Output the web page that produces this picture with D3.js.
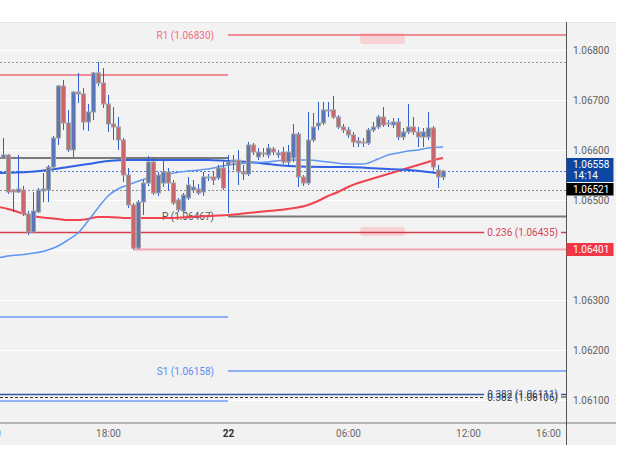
<!DOCTYPE html>
<html><head><meta charset="utf-8">
<script src="https://cdn.jsdelivr.net/npm/d3@7"></script>
<style>
html,body{margin:0;padding:0;background:#fff;}
svg{display:block;font-family:Roboto,"Noto Sans",sans-serif;}
</style></head><body>
<svg id="chart" width="625" height="474"></svg>
<script>
// ---------- DATA ----------
const candleStart = "21 12:45"; // 15-minute candles
const opens = [1.06584,1.06590,1.06520,1.06516,1.06520,1.06472,1.06436,1.06476,1.06518,1.06520,
1.06566,1.06624,1.06728,1.06654,1.06600,1.06716,1.06712,1.06656,1.06676,1.06754,
1.06734,1.06692,1.06652,1.06646,1.06620,1.06550,1.06490,1.06404,1.06496,1.06534,
1.06576,1.06514,1.06534,1.06556,1.06534,1.06500,1.06478,1.06504,1.06520,1.06522,
1.06516,1.06544,1.06546,1.06544,1.06564,1.06570,1.06576,1.06580,1.06556,1.06552,
1.06610,1.06586,1.06592,1.06590,1.06602,1.06590,1.06596,1.06576,1.06584,1.06632,
1.06546,1.06534,1.06620,1.06648,1.06654,1.06678,1.06680,1.06666,1.06646,1.06640,
1.06630,1.06618,1.06614,1.06614,1.06640,1.06646,1.06666,1.06652,1.06650,1.06656,
1.06626,1.06636,1.06646,1.06636,1.06626,1.06626,1.06644,1.06560,1.06546];
const highs = [1.06624,1.06592,1.06522,1.06590,1.06528,1.06478,1.06516,1.06524,1.06554,1.06570,
1.06628,1.06730,1.06740,1.06680,1.06718,1.06754,1.06724,1.06692,1.06756,1.06776,
1.06764,1.06710,1.06686,1.06666,1.06624,1.06564,1.06494,1.06500,1.06540,1.06588,
1.06586,1.06556,1.06580,1.06564,1.06540,1.06504,1.06514,1.06546,1.06540,1.06532,
1.06556,1.06552,1.06556,1.06570,1.06576,1.06590,1.06590,1.06600,1.06570,1.06616,
1.06614,1.06604,1.06604,1.06612,1.06606,1.06600,1.06606,1.06610,1.06652,1.06636,
1.06550,1.06676,1.06674,1.06696,1.06696,1.06696,1.06708,1.06670,1.06652,1.06646,
1.06636,1.06626,1.06624,1.06644,1.06656,1.06670,1.06686,1.06660,1.06664,1.06664,
1.06644,1.06692,1.06666,1.06646,1.06644,1.06676,1.06648,1.06570,1.06560];
const lows = [1.06582,1.06512,1.06476,1.06514,1.06468,1.06430,1.06434,1.06474,1.06496,1.06496,
1.06564,1.06610,1.06640,1.06596,1.06586,1.06694,1.06640,1.06638,1.06660,1.06728,
1.06684,1.06636,1.06620,1.06600,1.06536,1.06484,1.06401,1.06402,1.06470,1.06528,
1.06510,1.06508,1.06526,1.06520,1.06490,1.06476,1.06474,1.06500,1.06514,1.06510,
1.06508,1.06538,1.06530,1.06540,1.06520,1.06474,1.06560,1.06530,1.06540,1.06548,
1.06590,1.06580,1.06586,1.06584,1.06590,1.06584,1.06572,1.06570,1.06576,1.06526,
1.06528,1.06530,1.06616,1.06640,1.06650,1.06666,1.06662,1.06642,1.06634,1.06624,
1.06606,1.06606,1.06606,1.06610,1.06636,1.06642,1.06646,1.06646,1.06644,1.06620,
1.06620,1.06632,1.06630,1.06606,1.06606,1.06620,1.06560,1.06524,1.06540];
const closes = [1.06590,1.06516,1.06516,1.06522,1.06472,1.06436,1.06478,1.06520,1.06522,1.06566,
1.06624,1.06728,1.06654,1.06600,1.06716,1.06712,1.06656,1.06676,1.06754,1.06734,
1.06692,1.06652,1.06646,1.06620,1.06550,1.06490,1.06404,1.06496,1.06534,1.06576,
1.06514,1.06550,1.06556,1.06534,1.06494,1.06480,1.06510,1.06530,1.06526,1.06514,
1.06546,1.06546,1.06540,1.06564,1.06524,1.06576,1.06580,1.06556,1.06552,1.06610,
1.06596,1.06596,1.06594,1.06604,1.06596,1.06594,1.06576,1.06596,1.06632,1.06546,
1.06534,1.06620,1.06646,1.06654,1.06680,1.06680,1.06666,1.06646,1.06640,1.06630,
1.06616,1.06614,1.06616,1.06640,1.06646,1.06666,1.06650,1.06654,1.06656,1.06626,
1.06636,1.06646,1.06636,1.06626,1.06636,1.06644,1.06566,1.06546,1.06558];

const fastMATimes = ["21 12:30","21 13:00","21 14:00","21 15:00","21 15:30","21 16:00","21 16:30","21 17:00","21 17:30","21 18:00","21 18:30","21 19:00","21 20:00","21 21:00","21 22:00","21 23:00","22 00:00","22 01:00","22 02:00","22 03:00","22 04:00","22 05:00","22 06:00","22 06:45","22 07:30","22 08:00","22 08:30","22 09:00","22 09:30","22 10:00","22 10:45"];
const fastMAValues = [1.06384,1.06388,1.06392,1.06400,1.06408,1.06420,1.06434,1.06458,1.06484,1.06508,1.06522,1.06530,1.06544,1.06552,1.06558,1.06562,1.06570,1.06574,1.06576,1.06580,1.06580,1.06576,1.06572,1.06572,1.06582,1.06590,1.06594,1.06598,1.06600,1.06604,1.06606];
const slowMATimes = ["21 12:30","21 14:00","21 15:00","21 16:00","21 17:00","21 18:00","21 19:00","21 20:00","21 22:00","21 23:00","22 00:00","22 01:00","22 02:00","22 03:00","22 05:00","22 06:00","22 07:00","22 08:00","22 09:00","22 10:00","22 10:45"];
const slowMAValues = [1.06554,1.06556,1.06560,1.06566,1.06572,1.06578,1.06580,1.06580,1.06580,1.06580,1.06578,1.06576,1.06572,1.06568,1.06566,1.06566,1.06564,1.06562,1.06560,1.06556,1.06552];
const redMATimes = ["21 12:30","21 13:00","21 13:30","21 14:00","21 14:30","21 15:00","21 15:30","21 16:00","21 16:30","21 17:00","21 17:30","21 18:00","21 19:00","21 20:00","21 21:00","21 22:00","21 23:00","22 00:00","22 01:00","22 02:00","22 03:00","22 04:00","22 04:30","22 05:00","22 05:30","22 06:00","22 06:30","22 07:00","22 07:30","22 08:00","22 08:30","22 09:00","22 09:30","22 10:00","22 10:30","22 10:45"];
const redMAValues = [1.06486,1.06482,1.06476,1.06470,1.06466,1.06464,1.06462,1.06460,1.06460,1.06462,1.06466,1.06466,1.06464,1.06464,1.06464,1.06466,1.06468,1.06470,1.06474,1.06478,1.06482,1.06490,1.06498,1.06508,1.06516,1.06526,1.06534,1.06540,1.06546,1.06552,1.06558,1.06564,1.06570,1.06576,1.06582,1.06584];

const pivotNames = ["R1", "P", "S1"];
const pivotValues = [1.06830, 1.06467, 1.06158];
const prevPivotValues = [1.06750, 1.06584, 1.06266, 1.06098];
const fibNames = ["0.236", "0.382", "0.382"];
const fibValues = [1.06435, 1.06111, 1.06106];
const prevHigh = 1.06776;
const sessionLow = 1.06401;
const sessionLowTime = "21 19:15";
const lastPrice = 1.06558;
const refPrice = 1.06521;
const countdown = "14:14";
const zoneTimes = ["22 06:36", "22 08:51"];
const zoneBands = [[1.06812, 1.06834], [1.06428, 1.06446]];
const yTickValues = [1.061, 1.062, 1.063, 1.064, 1.065, 1.066, 1.067, 1.068];
const xTickTimes = ["21 12:00", "21 18:00", "22 00:00", "22 06:00", "22 12:00", "22 16:00"];
const xTickLabels = ["12:00", "18:00", "22", "06:00", "12:00", "16:00"];
const dayStart = "22 00:00";
const domainTimes = ["21 12:36", "22 16:54"];

// ---------- CHART ----------
const svg = d3.select("#chart");
const PL = 0, PR = 566, PT = 22, PB = 422, PANEL_R = 616, PANEL_B = 445;
const tp = s => d3.timeParse("%Y-%m-%d %H:%M")("2024-01-" + s);
const x = d3.scaleTime().domain(domainTimes.map(tp)).range([PL, PR]);
const y = d3.scaleLinear().domain([1.061, 1.068]).range([400, 50]);
const fmt = d3.format(".5f");
const xDay = x(tp(dayStart));

svg.append("rect").attr("x", 0).attr("y", PT).attr("width", PANEL_R).attr("height", PANEL_B - PT).attr("fill", "#f2f2f2");
svg.append("line").attr("x1", 0).attr("x2", PANEL_R).attr("y1", PT + 0.5).attr("y2", PT + 0.5).attr("stroke", "#e6e6ea");

svg.append("defs").append("clipPath").attr("id", "plot").append("rect")
  .attr("x", PL).attr("y", PT).attr("width", PR - PL).attr("height", PB - PT);

// gridlines
svg.append("g").call(d3.axisLeft(y).tickValues(yTickValues).tickSize(-(PR - PL)).tickFormat(""))
  .call(g => g.select(".domain").remove())
  .call(g => g.selectAll("line").attr("stroke", "#ffffff").attr("stroke-width", 1));
svg.append("g").attr("transform", `translate(0,${PB})`).attr("clip-path", "url(#plot)")
  .call(d3.axisBottom(x).tickValues(xTickTimes.map(tp)).tickSize(-(PB - PT)).tickFormat(""))
  .call(g => g.select(".domain").remove())
  .call(g => g.selectAll(".tick line")
    .attr("stroke", (d) => +d === +tp(dayStart) ? "#d9d9d9" : "#ffffff")
    .attr("stroke-width", (d) => +d === +tp(dayStart) ? 1.5 : 1)
    .attr("stroke-dasharray", (d) => +d === +tp(dayStart) ? "3,3" : null));

const plot = svg.append("g");
function hline(v, x1, x2, color, w, dash) {
  const yy = dash ? Math.round(y(v)) + 0.5 : y(v);
  plot.append("line").attr("x1", Math.max(PL, x1)).attr("x2", Math.min(PR, x2))
    .attr("y1", yy).attr("y2", yy)
    .style("stroke", color).style("stroke-width", w || 1).style("stroke-dasharray", dash || null);
}

// zones
plot.selectAll("rect.zone").data(zoneBands).join("rect").attr("class", "zone")
  .attr("x", x(tp(zoneTimes[0]))).attr("width", x(tp(zoneTimes[1])) - x(tp(zoneTimes[0])))
  .attr("y", d => y(d[1])).attr("height", d => y(d[0]) - y(d[1]))
  .attr("rx", 3).style("fill", "#f7d2d5");

// previous-day pivot lines
const prevColors = ["#ee6b78", "#7a7a7a", "#6d9af5", "#6d9af5"];
prevPivotValues.forEach((v, i) => hline(v, PL, xDay, prevColors[i], i === 1 ? 2 : 1.5));
// current pivots
const pivColors = ["#ee6b78", "#7a7a7a", "#6d9af5"];
const pivText = ["#f0707c", "#555555", "#5b8ef0"];
pivotValues.forEach((v, i) => {
  hline(v, xDay, PR, pivColors[i], i === 1 ? 2 : 1.5);
  svg.append("text").attr("x", xDay - 14).attr("y", y(v)).attr("dy", "0.35em")
    .attr("text-anchor", "end").attr("font-size", 10).style("fill", pivText[i])
    .text(`${pivotNames[i]} (${fmt(v)})`);
});
// dotted reference lines
hline(prevHigh, PL, PR, "#9a9a9a", 1, "2,2");
hline(refPrice, PL, PR, "#8c8c8c", 1, "2,2");
hline(lastPrice, PL, PR, "#4a78e0", 1, "2,2");
// session low
hline(sessionLow, x(tp(sessionLowTime)), PR, "#f4a3aa", 2);

// fib levels
const fibLine = ["#d23d4e", "#34559f", "#333333"];
const fibText = ["#d24555", "#2f4f9a", "#3a3a3a"];
fibValues.forEach((v, i) => {
  const t = svg.append("text").attr("x", PR - 8).attr("y", y(v)).attr("dy", "0.35em")
    .attr("text-anchor", "end").attr("font-size", 10).style("fill", fibText[i])
    .text(`${fibNames[i]} (${fmt(v)})`);
  const w = t.node().getComputedTextLength();
  hline(v, PL, PR - 8 - w - 3, fibLine[i], i === 2 ? 1 : 1.5, i === 2 ? "3,2" : null);
  hline(v, PR - 5, PR, fibLine[i], i === 2 ? 1 : 1.5, null);
  t.raise();
});

// moving averages
const maLayer = svg.append("g").attr("clip-path", "url(#plot)");
const lineGen = d3.line().x(d => x(d[0])).y(d => y(d[1])).curve(d3.curveMonotoneX);
function ma(times, vals, color, w) {
  maLayer.append("path").datum(times.map((t, i) => [tp(t), vals[i]]))
    .attr("d", lineGen).style("fill", "none").style("stroke", color).style("stroke-width", w);
}
ma(redMATimes, redMAValues, "#f0434f", 2);
ma(slowMATimes, slowMAValues, "#2f62e6", 2);
ma(fastMATimes, fastMAValues, "#5e96f2", 1.5);

// candles
const t0 = tp(candleStart);
const candles = opens.map((o, i) => ({ t: d3.timeMinute.offset(t0, 15 * i), o, h: highs[i], l: lows[i], c: closes[i] }));
const cg = svg.append("g").attr("clip-path", "url(#plot)");
cg.selectAll("line.wick").data(candles).join("line").attr("class", "wick")
  .attr("x1", d => Math.round(x(d.t)) + 0.5).attr("x2", d => Math.round(x(d.t)) + 0.5)
  .attr("y1", d => y(d.h)).attr("y2", d => y(d.l))
  .style("stroke", "#2f5fd3").style("stroke-width", 1);
cg.selectAll("rect.body").data(candles).join("rect").attr("class", "body")
  .attr("x", d => Math.round(x(d.t)) - 1.5).attr("width", 4)
  .attr("y", d => y(Math.max(d.o, d.c)))
  .attr("height", d => Math.max(1, Math.abs(y(d.o) - y(d.c))))
  .style("fill", d => d.c >= d.o ? "#5a76b8" : "#c9666e")
  .style("stroke", "#a3a3a3").style("stroke-width", 1);

// x axis
svg.append("rect").attr("x", 0).attr("y", PB).attr("width", PANEL_R).attr("height", 2).style("fill", "#b4b4b4");
const xAxis = svg.append("g").attr("transform", `translate(0,${PB})`)
  .call(d3.axisBottom(x).tickValues(xTickTimes.map(tp)).tickSize(0).tickPadding(8)
    .tickFormat((d, i) => xTickLabels[i]));
xAxis.select(".domain").remove();
xAxis.selectAll("text").attr("font-size", 10).attr("font-family", "Roboto")
  .style("fill", (d, i) => xTickLabels[i] === "22" ? "#333" : "#6a6a6a")
  .attr("font-weight", (d, i) => xTickLabels[i] === "22" ? "bold" : null);

// y axis
const yAxis = svg.append("g").attr("transform", `translate(${PR},0)`)
  .call(d3.axisRight(y).tickValues(yTickValues).tickSize(0).tickPadding(7).tickFormat(fmt));
yAxis.select(".domain").remove();
yAxis.selectAll("text").attr("font-size", 10).attr("font-family", "Roboto").style("fill", "#5f5f5f");
svg.append("rect").attr("x", PR).attr("y", PT).attr("width", 1).attr("height", PANEL_B - PT).style("fill", "#555");

// price boxes
function box(v, top, h, fill, lines) {
  svg.append("rect").attr("x", PR + 0.5).attr("y", y(v) + top).attr("width", 47).attr("height", h).style("fill", fill);
  lines.forEach((s, i) => svg.append("text").attr("x", PR + 7).attr("y", y(v) + top + 6 + i * 11.5)
    .attr("dy", "0.35em").attr("font-size", 10).style("fill", "#fff").text(s));
}
box(lastPrice, -13, 24, "#0d47a1", [fmt(lastPrice), countdown]);
box(refPrice, -6.5, 12.5, "#000000", [fmt(refPrice)]);
box(sessionLow, -6.5, 13, "#f23645", [fmt(sessionLow)]);
</script>
</body></html>
